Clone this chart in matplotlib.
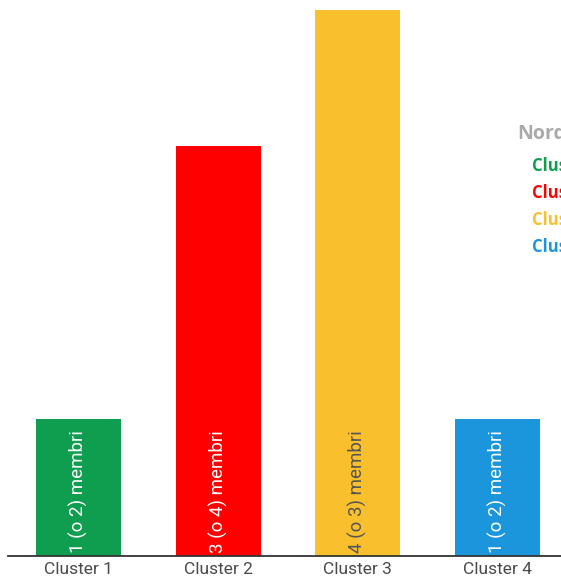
import matplotlib.pyplot as plt
import numpy as np

categories = ["Cluster 1", "Cluster 2", "Cluster 3", "Cluster 4"]
values = [1, 3, 4, 1]
bar_labels = ["1 (o 2) membri", "3 (o 4) membri", "4 (o 3) membri", "1 (o 2) membri"]
colors = ["#0f9d4f", "#ff0000", "#f9bf2c", "#1b96dc"]
label_colors = ["white", "white", "#555555", "white"]
legend_title = "Nord"
legend_entries = ["Cluster 1", "Cluster 2", "Cluster 3", "Cluster 4"]

W, H = 561, 579
fig = plt.figure(figsize=(W / 100, H / 100), dpi=100)
ax = fig.add_axes([8 / W, 23 / H, 1 - 8 / W, 556 / H])

x = np.arange(len(values))
ax.bar(x, values, width=0.607, color=colors)
ax.set_xlim(-0.505, 3.455)
ax.set_ylim(0, 4.07)

for xi, lab, c in zip(x, bar_labels, label_colors):
    ax.text(xi, 0.02, lab, rotation=90, ha="center", va="bottom",
            color=c, fontsize=13.5, family="Roboto")

for s in ["top", "right", "left"]:
    ax.spines[s].set_visible(False)
ax.spines["bottom"].set_color("#333333")
ax.spines["bottom"].set_linewidth(1.3)
ax.set_yticks([])
ax.set_xticks(x)
ax.set_xticklabels(categories, fontsize=12.5, color="#4a4a4a", family="Roboto")
ax.tick_params(axis="x", length=0, pad=4)

# legend, cut off at the right edge as in the original
fig.text(517 / W, 1 - 134 / H, legend_title, fontsize=14, fontweight="bold",
         color="#aaaaaa", family="Open Sans", va="center")
for i, (t, c) in enumerate(zip(legend_entries, colors)):
    fig.text(532 / W, 1 - (166 + 27 * i) / H, t, fontsize=12, fontweight="bold",
             color=c, family="Open Sans", va="center")

fig.savefig("out.png", dpi=100)
